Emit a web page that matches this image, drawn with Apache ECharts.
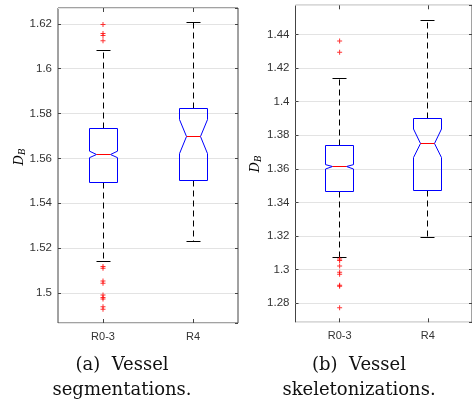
<!DOCTYPE html>
<html>
<head>
<meta charset="utf-8">
<script src="https://cdn.jsdelivr.net/npm/echarts@6/dist/echarts.min.js"></script>
<style>
  html, body { margin: 0; padding: 0; background: #fff; }
  #chart { width: 472px; height: 405px; }
</style>
</head>
<body>
<div id="chart"></div>
<script>
// categories on both panels
const categories = ['R0-3', 'R4']

// box stats: [lower whisker, q1, notch low, median, notch high, q3, upper whisker]
const segR03 = [1.5139, 1.5493, 1.5603, 1.5618, 1.5632, 1.5733, 1.6080]
const segR4 = [1.5230, 1.5503, 1.5621, 1.5697, 1.5773, 1.5824, 1.6207]
const segOutliersR03 = [1.6197, 1.6157, 1.6148, 1.6125, 1.5117, 1.5109, 1.5053, 1.5042, 1.4990, 1.4979, 1.4972, 1.4938, 1.4926]
const segRange = [1.4865, 1.6271]

const skelR03 = [1.3075, 1.3467, 1.3599, 1.3612, 1.3625, 1.3737, 1.4140]
const skelR4 = [1.3194, 1.3474, 1.3667, 1.3752, 1.3837, 1.3900, 1.4483]
const skelOutliersR03 = [1.4360, 1.4293, 1.3064, 1.3054, 1.3022, 1.2985, 1.2973, 1.2907, 1.2901, 1.2774]
const skelRange = [1.2687, 1.4573]

const captions = [['(a)  Vessel', 'segmentations.'], ['(b)  Vessel', 'skeletonizations.']]

const axisColor = '#444'
const labelColor = '#333'
const plusSymbol = 'path://M4,0H6V4H10V6H6V10H4V6H0V4H4Z'

// snap to pixel centre so 1px lines stay crisp
const snap = v => Math.round(v - 0.5) + 0.5

// notched box, MATLAB style
function renderBox(params, api) {
  const idx = api.value(0)
  const pt = k => api.coord([idx, api.value(k)])
  const band = api.size([1, 0])[0]
  const half = Math.round(band * 0.156)
  const capHalf = Math.round(half / 2)
  const cx = snap(pt(1)[0])
  const lo = snap(pt(1)[1]), q1 = snap(pt(2)[1]), nLo = pt(3)[1], med = snap(pt(4)[1])
  const nHi = pt(5)[1], q3 = snap(pt(6)[1]), hi = snap(pt(7)[1])
  const L = cx - half, R = cx + half
  const dash = { stroke: '#000', lineWidth: 1, lineDash: [6, 4], fill: null }
  const solid = { stroke: '#000', lineWidth: 1, fill: null }
  return {
    type: 'group',
    children: [
      { type: 'line', shape: { x1: cx, y1: q3, x2: cx, y2: hi }, style: dash },
      { type: 'line', shape: { x1: cx, y1: q1, x2: cx, y2: lo }, style: dash },
      { type: 'line', shape: { x1: cx - capHalf, y1: hi, x2: cx + capHalf, y2: hi }, style: solid },
      { type: 'line', shape: { x1: cx - capHalf, y1: lo, x2: cx + capHalf, y2: lo }, style: solid },
      {
        type: 'polygon',
        shape: {
          points: [
            [L, q3], [R, q3], [R, nHi], [cx + capHalf, med], [R, nLo],
            [R, q1], [L, q1], [L, nLo], [cx - capHalf, med], [L, nHi]
          ]
        },
        style: { stroke: '#0000ff', lineWidth: 1, fill: null }
      },
      { type: 'line', shape: { x1: cx - capHalf, y1: med, x2: cx + capHalf, y2: med }, style: { stroke: '#ff0000', lineWidth: 1 } }
    ]
  }
}

function xAxisFor(gridIndex, position) {
  return {
    type: 'category',
    gridIndex: gridIndex,
    position: position,
    data: categories,
    boundaryGap: true,
    axisLine: { show: false },
    axisTick: { show: true, inside: true, alignWithLabel: true, length: 4, lineStyle: { color: axisColor } },
    axisLabel: {
      show: position === 'bottom',
      color: labelColor,
      fontFamily: 'Liberation Sans',
      fontSize: 11,
      margin: 8
    },
    splitLine: { show: false }
  }
}

function yAxisFor(gridIndex, position, range, splitNumber) {
  return {
    type: 'value',
    gridIndex: gridIndex,
    position: position,
    min: range[0],
    max: range[1],
    splitNumber: splitNumber,
    axisLine: { show: false },
    axisTick: { show: true, inside: true, length: 3, lineStyle: { color: axisColor } },
    axisLabel: {
      show: position === 'left',
      showMinLabel: false,
      showMaxLabel: false,
      color: labelColor,
      fontFamily: 'Liberation Sans',
      fontSize: 11.5,
      margin: 6,
      formatter: v => String(Number(v.toFixed(2)))
    },
    splitLine: { show: position === 'left', lineStyle: { color: '#e3e3e3', width: 1 } }
  }
}

const chart = echarts.init(document.getElementById('chart'), null, { renderer: 'canvas' })

const nameRich = {
  d: { fontFamily: 'DejaVu Serif', fontStyle: 'italic', fontSize: 13, color: '#222' },
  b: { fontFamily: 'DejaVu Serif', fontStyle: 'italic', fontSize: 9, color: '#222', verticalAlign: 'bottom', padding: [6, 0, 0, 0] }
}

const option = {
  animation: false,
  backgroundColor: '#fff',
  grid: [
    { left: 58, top: 8, width: 180, height: 315, show: true, borderColor: axisColor, borderWidth: 1, backgroundColor: 'transparent' },
    { left: 295.5, top: 5.3, width: 180, height: 317, show: true, borderColor: axisColor, borderWidth: 1, backgroundColor: 'transparent' }
  ],
  xAxis: [
    xAxisFor(0, 'bottom'), xAxisFor(0, 'top'),
    xAxisFor(1, 'bottom'), xAxisFor(1, 'top')
  ],
  yAxis: [
    yAxisFor(0, 'left', segRange, 7), yAxisFor(0, 'right', segRange, 7),
    yAxisFor(1, 'left', skelRange, 9), yAxisFor(1, 'right', skelRange, 9)
  ],
  series: [
    {
      type: 'custom', xAxisIndex: 0, yAxisIndex: 0,
      renderItem: renderBox,
      data: [[0].concat(segR03), [1].concat(segR4)],
      z: 3
    },
    {
      type: 'scatter', xAxisIndex: 0, yAxisIndex: 0,
      symbol: plusSymbol, symbolSize: 5,
      itemStyle: { color: '#ff0000' },
      data: segOutliersR03.map(v => [0, v]),
      z: 4
    },
    {
      type: 'custom', xAxisIndex: 2, yAxisIndex: 2,
      renderItem: renderBox,
      data: [[0].concat(skelR03), [1].concat(skelR4)],
      z: 3
    },
    {
      type: 'scatter', xAxisIndex: 2, yAxisIndex: 2,
      symbol: plusSymbol, symbolSize: 5,
      itemStyle: { color: '#ff0000' },
      data: skelOutliersR03.map(v => [0, v]),
      z: 4
    }
  ],
  graphic: [
    { type: 'text', x: 20, y: 157, rotation: Math.PI / 2, style: { text: '{d|D}{b|B}', rich: nameRich, align: 'center', verticalAlign: 'middle' } },
    { type: 'text', x: 256, y: 164, rotation: Math.PI / 2, style: { text: '{d|D}{b|B}', rich: nameRich, align: 'center', verticalAlign: 'middle' } },
    { type: 'text', x: 122, y: 365, style: { text: captions[0][0], fontFamily: 'DejaVu Serif', fontSize: 18, fill: '#111', align: 'center', verticalAlign: 'middle' } },
    { type: 'text', x: 122, y: 390, style: { text: captions[0][1], fontFamily: 'DejaVu Serif', fontSize: 18, fill: '#111', align: 'center', verticalAlign: 'middle' } },
    { type: 'text', x: 359, y: 365, style: { text: captions[1][0], fontFamily: 'DejaVu Serif', fontSize: 18, fill: '#111', align: 'center', verticalAlign: 'middle' } },
    { type: 'text', x: 359, y: 390, style: { text: captions[1][1], fontFamily: 'DejaVu Serif', fontSize: 18, fill: '#111', align: 'center', verticalAlign: 'middle' } }
  ]
}

chart.setOption(option)
window.addEventListener('resize', () => chart.resize())
</script>
</body>
</html>
